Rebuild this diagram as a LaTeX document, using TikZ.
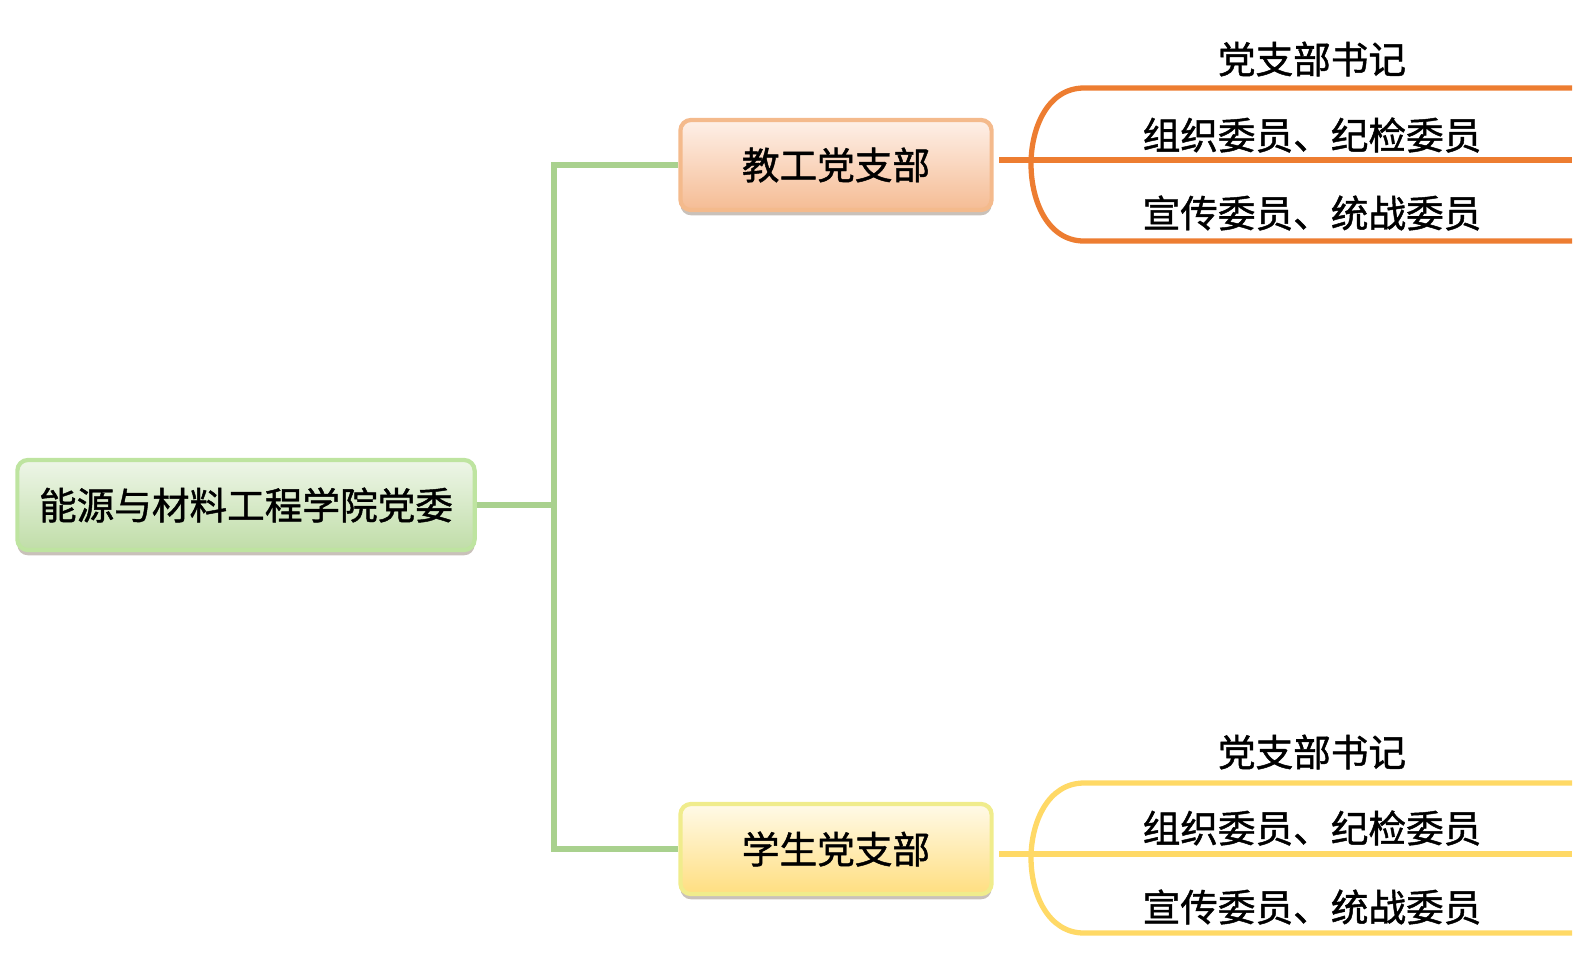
\documentclass[tikz,border=0pt]{standalone}
\usepackage{fontspec}
\newfontfamily\cjk{Noto Sans CJK SC}[FakeBold=1.2]
\usetikzlibrary{shadows}
\definecolor{lvxian}{RGB}{169,209,142}
\definecolor{chengxian}{RGB}{237,125,49}
\definecolor{huangxian}{RGB}{255,217,102}
\definecolor{lvtop}{RGB}{238,246,232}
\definecolor{lvbot}{RGB}{192,221,168}
\definecolor{lvbian}{RGB}{190,228,160}
\definecolor{chengtop}{RGB}{254,240,232}
\definecolor{chengbot}{RGB}{245,188,148}
\definecolor{chengbian}{RGB}{244,186,140}
\definecolor{huangtop}{RGB}{255,250,232}
\definecolor{huangbot}{RGB}{255,222,128}
\definecolor{huangbian}{RGB}{240,236,140}
\tikzset{
    kuang/.style={rounded corners=3pt, line width=1.2pt, inner sep=0pt,
        minimum height=0.9cm, font=\cjk\fontsize{10.7}{12}\selectfont,
        drop shadow={shadow xshift=0pt, shadow yshift=-1.5pt, opacity=0.3, fill=black!60!brown}},
    zhi/.style={font=\cjk\fontsize{10.7}{12}\selectfont, inner sep=0pt},
    lvline/.style={draw=lvxian, line width=1.6pt},
}
\begin{document}
\begin{tikzpicture}[x=0.01cm, y=-0.01cm]
    \useasboundingbox (0,0) rectangle (1592,960);
    % 三个方框
    \node[kuang, minimum width=4.57cm, draw=lvbian, top color=lvtop, bottom color=lvbot] (dangwei) at (246,505) {能源与材料工程学院党委};
    \node[kuang, minimum width=3.11cm, draw=chengbian, top color=chengtop, bottom color=chengbot] (jiaogong) at (836,165) {教工党支部};
    \node[kuang, minimum width=3.11cm, draw=huangbian, top color=huangtop, bottom color=huangbot] (xuesheng) at (836,849) {学生党支部};
    % 主干
    \coordinate (gan) at (554,505);
    \draw[lvline] (dangwei.east) -- (gan) |- (jiaogong.west);
    \draw[lvline] (gan) |- (xuesheng.west);
    % 教工党支部的分支
    \coordinate (j-qi) at (999,160);
    \coordinate (j-shang) at (1084,88);
    \coordinate (j-xia) at (1084,241);
    \coordinate (j-zuo) at (1031,164);
    \coordinate (j-shang-r) at (1572,88);
    \coordinate (j-zhong-r) at (1572,160);
    \coordinate (j-xia-r) at (1572,241);
    \draw[chengxian, line width=1.5pt] (j-qi) -- (j-zhong-r);
    \draw[chengxian, line width=1.5pt] (j-shang-r) -- (j-shang) to[out=180,in=90] (j-zuo) to[out=270,in=180] (j-xia) -- (j-xia-r);
    \node[zhi] (j-shuji) at (1312,59) {党支部书记};
    \node[zhi] (j-zuzhi) at (1312,135) {组织委员、纪检委员};
    \node[zhi] (j-xuanchuan) at (1312,213) {宣传委员、统战委员};
    % 学生党支部的分支
    \coordinate (x-qi) at (999,854);
    \coordinate (x-shang) at (1084,783);
    \coordinate (x-xia) at (1084,933);
    \coordinate (x-zuo) at (1031,858);
    \coordinate (x-shang-r) at (1572,783);
    \coordinate (x-zhong-r) at (1572,854);
    \coordinate (x-xia-r) at (1572,933);
    \draw[huangxian, line width=1.5pt] (x-qi) -- (x-zhong-r);
    \draw[huangxian, line width=1.5pt] (x-shang-r) -- (x-shang) to[out=180,in=90] (x-zuo) to[out=270,in=180] (x-xia) -- (x-xia-r);
    \node[zhi] (x-shuji) at (1312,752) {党支部书记};
    \node[zhi] (x-zuzhi) at (1312,828) {组织委员、纪检委员};
    \node[zhi] (x-xuanchuan) at (1312,907) {宣传委员、统战委员};
\end{tikzpicture}
\end{document}
